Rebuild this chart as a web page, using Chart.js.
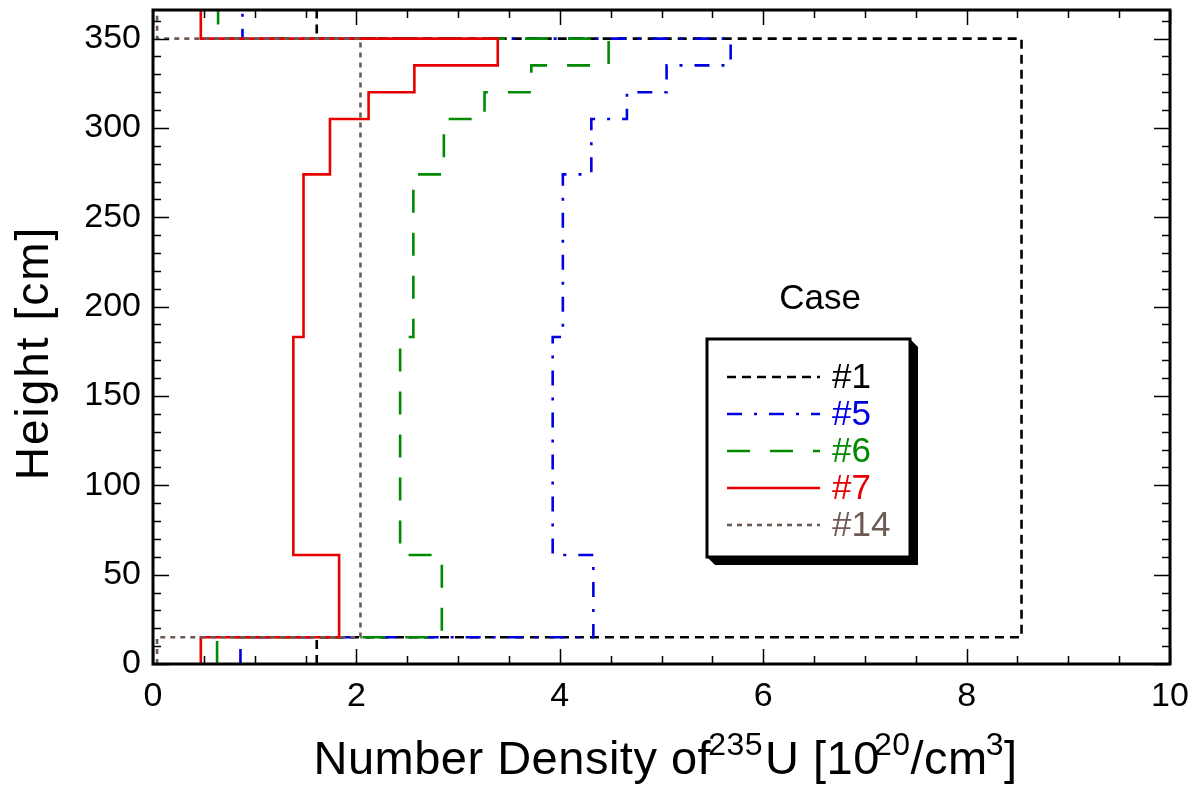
<!DOCTYPE html>
<html>
<head>
<meta charset="utf-8">
<script src="https://cdn.jsdelivr.net/npm/chart.js@4.4.1/dist/chart.umd.min.js"></script>
<style>
  html, body { margin: 0; padding: 0; background: #fff; }
  #wrap { width: 1203px; height: 787px; }
</style>
</head>
<body>
<div id="wrap"><canvas id="myChart" width="1203" height="787"></canvas></div>
<script>
// layer boundaries along the height [cm]
const heights = [0, 15, 61, 183, 274, 305, 320, 335, 350, 366];

// U-235 number density per layer [1e20/cm3]
const case1 = [1.61, 8.54, 8.54, 8.54, 8.54, 8.54, 8.54, 8.54, 1.61];
const case5 = [0.86, 4.33, 3.93, 4.03, 4.31, 4.66, 5.05, 5.68, 0.88];
const case6 = [0.63, 2.84, 2.43, 2.56, 2.86, 3.26, 3.72, 4.48, 0.64];
const case7 = [0.47, 1.83, 1.38, 1.48, 1.74, 2.12, 2.57, 3.39, 0.47];
const case14 = [0.04, 2.04, 2.04, 2.04, 2.04, 2.04, 2.04, 2.04, 0.04];

const caseNames = ['#1', '#5', '#6', '#7', '#14'];
const caseColors = ['#000000', '#0000e0', '#008a00', '#e80000', '#6e5a55'];
const caseDashes = [[9, 6], [15, 12, 3, 12], [23, 20], [], [5, 5]];

const FONT = '"Liberation Sans", Arial, sans-serif';

// turn per-layer values into a stepped profile
const toSteps = (vals) => {
  let pts = [];
  vals.forEach((v, i) => {
    pts.push({ x: v, y: heights[i] });
    pts.push({ x: v, y: heights[i + 1] });
  });
  return pts;
};

const allCases = [case1, case5, case6, case7, case14];

const datasets = allCases.map((vals, i) => ({
  label: caseNames[i],
  data: toSteps(vals),
  showLine: true,
  borderColor: caseColors[i],
  borderDash: caseDashes[i],
  borderWidth: 2.6,
  borderCapStyle: 'butt',
  borderJoinStyle: 'miter',
  pointRadius: 0,
  fill: false,
  tension: 0,
  order: allCases.length - i
}));

// frame plus inward ticks on all four sides
const frameTicks = {
  id: 'frameTicks',
  afterDatasetsDraw(chart) {
    const { ctx, chartArea: a, scales: { x, y } } = chart;
    ctx.save();
    ctx.strokeStyle = '#000';
    ctx.lineWidth = 1.5;
    ctx.beginPath();
    for (let v = 0; v <= 10.001; v += 0.5) {
      const px = Math.round(x.getPixelForValue(v)) + 0.5;
      const len = Math.abs(v % 2) < 0.01 ? 15 : 8;
      ctx.moveTo(px, a.bottom); ctx.lineTo(px, a.bottom - len);
      ctx.moveTo(px, a.top); ctx.lineTo(px, a.top + len);
    }
    for (let v = 0; v <= y.max; v += 10) {
      const py = Math.round(y.getPixelForValue(v)) + 0.5;
      const len = v % 50 === 0 ? 16 : 8;
      ctx.moveTo(a.left, py); ctx.lineTo(a.left + len, py);
      ctx.moveTo(a.right, py); ctx.lineTo(a.right - len, py);
    }
    ctx.stroke();
    ctx.lineWidth = 3;
    ctx.strokeRect(a.left, a.top, a.right - a.left, a.bottom - a.top);
    ctx.restore();
  }
};

// axis titles, the x one needs superscripts
const axisTitles = {
  id: 'axisTitles',
  afterDraw(chart) {
    const { ctx, chartArea: a } = chart;
    ctx.save();
    ctx.fillStyle = '#000';
    ctx.textBaseline = 'alphabetic';

    const big = '47px ' + FONT;
    const small = '32px ' + FONT;
    // [text, font, raise, gap before]
    const parts = [
      ['Number Density of', big, 0, 0],
      ['235', small, 19, -3],
      ['U [10', big, 0, 2],
      ['20', small, 19, -6],
      ['/cm', big, 0, 0],
      ['3', small, 19, -2],
      [']', big, 0, 0]
    ];
    ctx.letterSpacing = '0.5px';
    let total = 0;
    parts.forEach(p => { ctx.font = p[1]; total += p[3] + ctx.measureText(p[0]).width; });
    let cx = (a.left + a.right) / 2 + 4 - total / 2;
    ctx.textAlign = 'left';
    parts.forEach(p => {
      ctx.font = p[1];
      cx += p[3];
      ctx.fillText(p[0], cx, 774 - p[2]);
      cx += ctx.measureText(p[0]).width;
    });

    ctx.letterSpacing = '2px';
    ctx.translate(48, 353);
    ctx.rotate(-Math.PI / 2);
    ctx.font = '46px ' + FONT;
    ctx.textAlign = 'center';
    ctx.fillText('Height [cm]', 0, 0);
    ctx.restore();
  }
};

// boxed legend with a drop shadow and a title above it
const caseLegend = {
  id: 'caseLegend',
  afterDraw(chart) {
    const { ctx } = chart;
    const bx = 707, by = 339, bw = 203, bh = 218, sh = 8;
    ctx.save();
    ctx.fillStyle = '#000';
    ctx.beginPath();
    ctx.moveTo(bx + bw, by);
    ctx.lineTo(bx + bw + sh, by + sh);
    ctx.lineTo(bx + bw + sh, by + bh + sh);
    ctx.lineTo(bx + sh, by + bh + sh);
    ctx.lineTo(bx, by + bh);
    ctx.closePath();
    ctx.fill();
    ctx.fillStyle = '#fff';
    ctx.fillRect(bx, by, bw, bh);
    ctx.lineWidth = 3;
    ctx.strokeStyle = '#000';
    ctx.strokeRect(bx, by, bw, bh);

    ctx.font = '35px ' + FONT;
    ctx.textAlign = 'center';
    ctx.textBaseline = 'middle';
    ctx.fillStyle = '#000';
    ctx.fillText('Case', 820, 299);

    ctx.textAlign = 'left';
    chart.data.datasets.forEach((ds, i) => {
      const ly = 377 + i * 37;
      ctx.strokeStyle = ds.borderColor;
      ctx.lineWidth = 2.6;
      ctx.setLineDash(ds.borderDash);
      ctx.beginPath();
      ctx.moveTo(727, ly);
      ctx.lineTo(820, ly);
      ctx.stroke();
      ctx.setLineDash([]);
      ctx.fillStyle = ds.borderColor;
      ctx.fillText(ds.label, 832, ly + 1);
    });
    ctx.restore();
  }
};

const noEdgePadding = (s) => {
  s.paddingTop = 0;
  s.paddingBottom = 0;
  s.paddingLeft = 0;
  s.paddingRight = 0;
};

const ctx = document.getElementById('myChart');
const myChart = new Chart(ctx, {
  type: 'scatter',
  data: { datasets: datasets },
  options: {
    responsive: false,
    animation: false,
    layout: { padding: { top: 10, right: 33, left: 0, bottom: 0 } },
    plugins: { legend: { display: false }, tooltip: { enabled: false } },
    scales: {
      x: {
        type: 'linear',
        min: 0,
        max: 10,
        grid: { display: false, drawTicks: false },
        border: { display: false },
        ticks: {
          stepSize: 2,
          padding: 12,
          color: '#000',
          font: { family: FONT, size: 34 }
        },
        afterFit: (s) => { s.height = 123; noEdgePadding(s); }
      },
      y: {
        type: 'linear',
        min: 0,
        max: heights[heights.length - 1],
        grid: { display: false, drawTicks: false },
        border: { display: false },
        ticks: {
          stepSize: 50,
          includeBounds: false,
          padding: 12,
          color: '#000',
          font: { family: FONT, size: 34 }
        },
        afterFit: (s) => { s.width = 153; noEdgePadding(s); }
      }
    }
  },
  plugins: [frameTicks, axisTitles, caseLegend]
});
</script>
</body>
</html>
